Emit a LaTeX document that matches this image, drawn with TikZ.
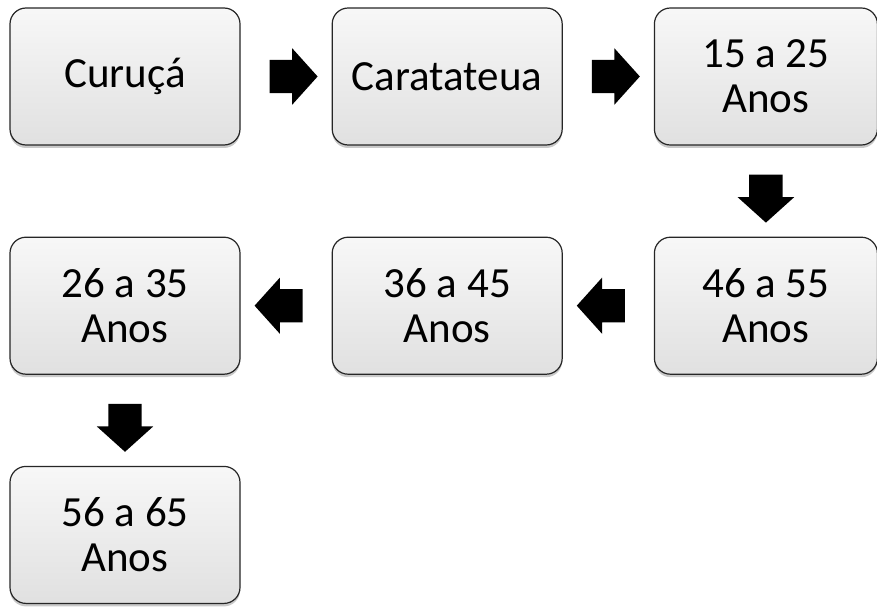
\documentclass[tikz,border=0pt]{standalone}
\usepackage{fontspec}
\setmainfont{Carlito}
\usetikzlibrary{positioning,shapes.arrows,shadows}

\begin{document}
\begin{tikzpicture}[x=1pt, y=1pt, node distance = {91pt},
	caixa/.style = {draw=black!85, line width=1.2pt, rounded corners=16pt,
		minimum width=230pt, minimum height=137pt, align=center,
		top color=gray!6, bottom color=gray!24,
		font=\fontsize{43}{45}\selectfont,
		drop shadow={shadow xshift=0pt, shadow yshift=-3pt, opacity=0.3, fill=black!70}},
	seta/.style = {single arrow, fill=black, draw=none,
		inner xsep=0pt, inner ysep=16.5pt,
		minimum width=56pt, minimum height=48pt,
		single arrow head extend=11.5pt, single arrow tip angle=96}]
	\useasboundingbox (0,0) rectangle (877,606);
	\node[caixa] (1) at (125,529.5) {Curuçá};
	\node[caixa] (2) [right=of 1] {Caratateua};
	\node[caixa, minimum width=223pt] (3) [right=of 2] {15 a 25\\Anos};
	\node[caixa, minimum width=223pt] (4) [below=of 3] {46 a 55\\Anos};
	\node[caixa] (5) [left=of 4] {36 a 45\\Anos};
	\node[caixa] (6) [left=of 5] {26 a 35\\Anos};
	\node[caixa] (7) [below=of 6] {56 a 65\\Anos};
	\path (1) -- node[seta] {} (2);
	\path (2) -- node[seta] {} (3);
	\path (3) -- node[seta, rotate=-90] {} (4);
	\path (4) -- node[seta, rotate=180] {} (5);
	\path (5) -- node[seta, rotate=180] {} (6);
	\path (6) -- node[seta, rotate=-90] {} (7);
	
	%\caption{Faixas etarias}
\end{tikzpicture}
\end{document}
